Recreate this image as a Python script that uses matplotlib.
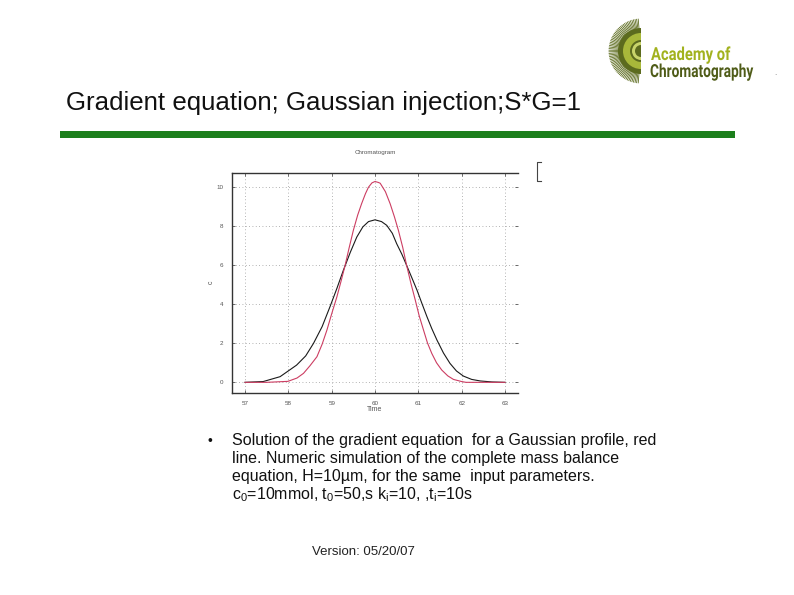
import numpy as np
import matplotlib
matplotlib.use("Agg")
import matplotlib.pyplot as plt
from matplotlib.patches import Wedge, Rectangle, PathPatch
from matplotlib.textpath import TextPath
from matplotlib.font_manager import FontProperties
from matplotlib.transforms import Affine2D

plt.rcParams['font.family'] = ['Liberation Sans', 'DejaVu Sans']
plt.rcParams['mathtext.fontset'] = 'custom'
plt.rcParams['mathtext.rm'] = 'Liberation Sans'
plt.rcParams['mathtext.it'] = 'Liberation Sans'

# ---------------- data ----------------
black_t = [57.0, 57.42, 57.81, 58.19, 58.40, 58.58, 58.78, 58.96, 59.12, 59.27, 59.43,
           59.58, 59.72, 59.85, 60.0, 60.15, 60.27, 60.40, 60.50, 60.62, 60.73, 60.85,
           60.97, 61.08, 61.20, 61.31, 61.43, 61.58, 61.73, 61.88, 62.04, 62.23, 62.43,
           62.70, 63.0]
black_c = [0.0, 0.04, 0.29, 0.88, 1.35, 1.99, 2.85, 3.86, 4.80, 5.73, 6.65,
           7.43, 7.95, 8.22, 8.31, 8.22, 8.03, 7.62, 7.09, 6.55, 5.98, 5.35,
           4.71, 4.05, 3.35, 2.75, 2.16, 1.50, 0.97, 0.58, 0.32, 0.15, 0.07,
           0.02, 0.0]

red_t = [57.0, 57.5, 57.99, 58.20, 58.35, 58.50, 58.66, 58.78, 58.89, 59.00, 59.12,
         59.22, 59.31, 59.40, 59.50, 59.60, 59.69, 59.78, 59.85, 59.93, 60.0, 60.08,
         60.12, 60.24, 60.35, 60.45, 60.54, 60.64, 60.73, 60.83, 60.93, 61.02, 61.12,
         61.21, 61.31, 61.42, 61.54, 61.68, 61.81, 62.0, 62.1, 63.0]
red_c = [0.0, 0.0, 0.05, 0.22, 0.46, 0.85, 1.31, 1.95, 2.67, 3.50, 4.37,
         5.20, 5.98, 6.85, 7.77, 8.55, 9.13, 9.65, 9.98, 10.20, 10.27, 10.22,
         10.18, 9.75, 9.13, 8.45, 7.77, 6.90, 5.98, 5.05, 4.20, 3.40, 2.67,
         2.02, 1.48, 1.00, 0.63, 0.33, 0.15, 0.04, 0.0, 0.0]

x_ticks = [57, 58, 59, 60, 61, 62, 63]
y_ticks = [0, 2, 4, 6, 8, 10]

slide_title = "Gradient equation; Gaussian injection;S*G=1"
plot_title = "Chromatogram"
x_label = "Time"
y_label = "c"
bullet_lines = [
    "Solution of the gradient equation  for a Gaussian profile, red",
    "line. Numeric simulation of the complete mass balance",
    "equation, H=10\u00b5m, for the same  input parameters.",
    "c$_0$=10mmol, t$_0$=50,s k$_i$=10, ,t$_i$=10s",
]
version_text = "Version: 05/20/07"
logo_line1 = "Academy of"
logo_line2 = "Chromatography"

# ---------------- figure ----------------
W, H = 794, 595
fig = plt.figure(figsize=(W / 100, H / 100), dpi=100)
fig.patch.set_facecolor('white')

# pixel overlay for slide elements
ov = fig.add_axes([0, 0, 1, 1])
ov.set_xlim(0, W)
ov.set_ylim(H, 0)
ov.axis('off')
ov.patch.set_visible(False)

ov.text(66, 110, slide_title, fontsize=18.6, color='#111111', va='baseline', ha='left')
ov.add_patch(Rectangle((60, 131), 675, 7, color='#1c7f1c', lw=0))

ov.text(207, 441, "\u2022", fontsize=10, va='center', ha='left', color='#111111')
for i, line in enumerate(bullet_lines):
    ov.text(232, 441 + 18 * i, line, fontsize=11.5, va='center', ha='left', color='#111111')

ov.text(363, 552, version_text, fontsize=9.5, va='center', ha='center', color='#222222')

# logo
cx, cy = 641, 51
for ang in np.linspace(95, 265, 60):
    a = np.deg2rad(ang)
    ov.plot([cx + 20 * np.cos(a), cx + 32 * np.cos(a)],
            [cy - 20 * np.sin(a), cy - 32 * np.sin(a)], color='#5c6b1e', lw=0.6)
ov.add_patch(Wedge((cx, cy), 23, 90, 270, color='#5c6b1e', lw=0))
ov.add_patch(Wedge((cx, cy), 18, 90, 270, width=7, color='#a8b83a', lw=0))
ov.add_patch(Wedge((cx, cy), 9, 90, 270, width=3, color='#c8d46a', lw=0))


def squeezed_text(s, x, y, size, sx, color):
    tp = TextPath((0, 0), s, size=size, prop=FontProperties(family='Roboto', weight='bold'))
    tr = Affine2D().scale(sx, -1.0).translate(x, y) + ov.transData
    ov.add_patch(PathPatch(tp, transform=tr, color=color, lw=0))


squeezed_text(logo_line1, 651, 60, 18, 0.82, '#a2b21e')
squeezed_text(logo_line2, 650, 77, 18, 0.76, '#4f5c18')
ov.text(775, 75, ".", fontsize=6, color='#777777', ha='center')

# legend fragment
ov.plot([541, 537, 537, 541], [162, 162, 181, 181], color='#444444', lw=0.8)

# ---------------- chart ----------------
l, r, t, b = 231.7, 518, 172.5, 392.7
ax = fig.add_axes([l / W, 1 - b / H, (r - l) / W, (b - t) / H])
ax.plot(black_t, black_c, color='#1a1a1a', lw=0.8)
ax.plot(red_t, red_c, color='#cc3d62', lw=0.8)
ax.set_xlim(56.693, 63.30)
ax.set_ylim(-0.53, 10.73)
ax.set_xticks(x_ticks)
ax.set_yticks(y_ticks)
ax.set_xticklabels([str(v) for v in x_ticks])
ax.set_yticklabels([str(v) for v in y_ticks])
ax.grid(True, linestyle=(0, (1, 3)), color='#9a9a9a', lw=0.6)
ax.tick_params(direction='in', length=2, width=0.6, labelsize=4.5, labelcolor='#555555',
               color='#555555', top=True, right=True, pad=6)
for s in ['left', 'bottom', 'top']:
    ax.spines[s].set_color('#333333')
    ax.spines[s].set_linewidth(1.0)
ax.spines['right'].set_visible(False)
ax.set_xlabel(x_label, fontsize=5, color='#555555', labelpad=0)
ax.set_ylabel(y_label, fontsize=5, color='#555555', labelpad=1, rotation=90)
ax.set_title(plot_title, fontsize=4.5, color='#555555', pad=13)

fig.savefig("out.png", dpi=100, facecolor='white')
